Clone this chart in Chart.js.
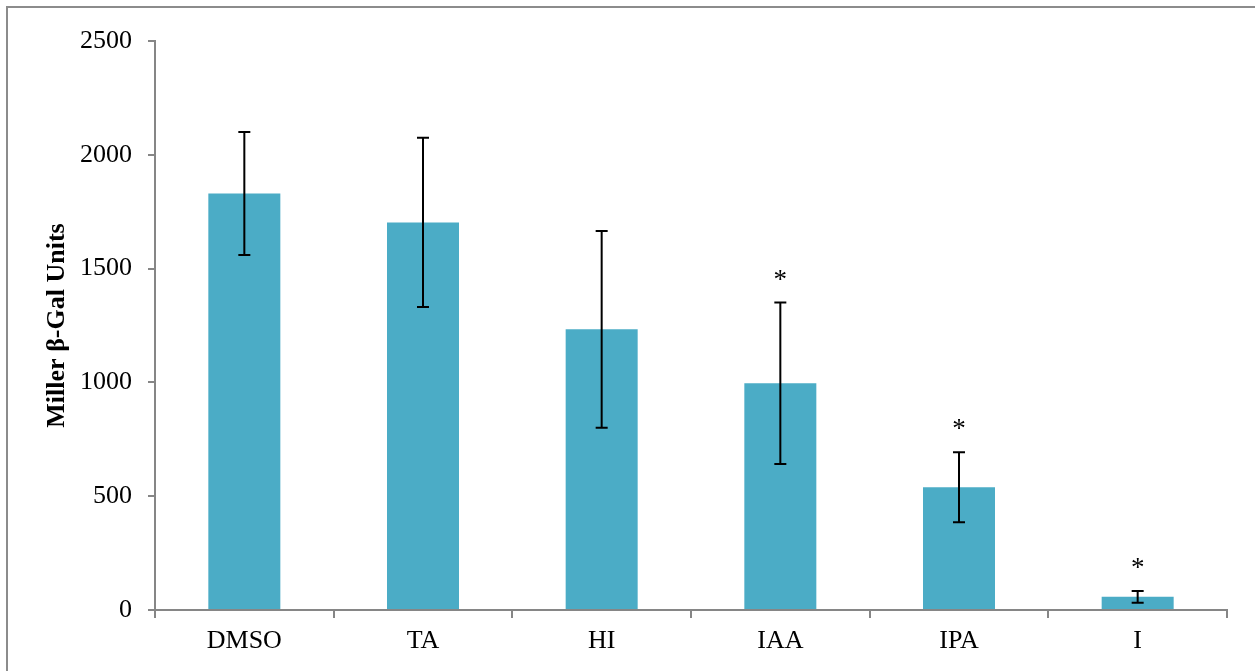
<!DOCTYPE html>
<html>
<head>
<meta charset="utf-8">
<script src="https://cdn.jsdelivr.net/npm/chart.js@4"></script>
<style>
  html, body { margin: 0; padding: 0; background: #fff; overflow: hidden; }
  #wrap { position: relative; width: 1255px; height: 671px; }
  #frame {
    position: absolute; left: 6px; top: 6px; width: 2000px; height: 2000px;
    border-left: 2px solid #8c8c8c; border-top: 2px solid #8c8c8c;
  }
  #chart { position: absolute; left: 0; top: 0; }
</style>
</head>
<body>
<div id="wrap">
  <div id="frame"></div>
  <canvas id="chart" width="1255" height="671"></canvas>
</div>
<script>
// Data
const categories = ["DMSO", "TA", "HI", "IAA", "IPA", "I"];
const means = [1830, 1703, 1233, 996, 539, 58];
const errors = [270, 372, 432, 355, 154, 26];
const marks = ["", "", "", "*", "*", "*"];
const yTicks = [0, 500, 1000, 1500, 2000, 2500];

const serif = "'Liberation Serif', 'Times New Roman', serif";
const axisGray = "#868686";

// error bars and significance stars, positioned through the y scale
const errorBarPlugin = {
  id: "errorBars",
  afterDatasetsDraw(chart) {
    const ctx = chart.ctx;
    const y = chart.scales.y;
    const meta = chart.getDatasetMeta(0);
    ctx.save();
    ctx.strokeStyle = "#000";
    ctx.lineWidth = 2;
    meta.data.forEach((bar, i) => {
      const hi = y.getPixelForValue(means[i] + errors[i]);
      const lo = y.getPixelForValue(means[i] - errors[i]);
      const x = bar.x;
      ctx.beginPath();
      ctx.moveTo(x, hi); ctx.lineTo(x, lo);
      ctx.moveTo(x - 6, hi); ctx.lineTo(x + 6, hi);
      ctx.moveTo(x - 6, lo); ctx.lineTo(x + 6, lo);
      ctx.stroke();
      if (marks[i]) {
        ctx.fillStyle = "#000";
        ctx.font = "27px " + serif;
        ctx.textAlign = "center";
        ctx.textBaseline = "alphabetic";
        ctx.fillText(marks[i], x, hi - 15);
      }
    });
    ctx.restore();
  }
};

const ctx = document.getElementById("chart").getContext("2d");
const chart = new Chart(ctx, {
  type: "bar",
  data: {
    labels: categories,
    datasets: [{
      data: means,
      backgroundColor: "#4BACC6",
      barPercentage: 0.403,
      categoryPercentage: 1
    }]
  },
  options: {
    responsive: false,
    animation: false,
    layout: { padding: { left: 0, top: 41, right: 28, bottom: 0 } },
    plugins: {
      legend: { display: false },
      tooltip: { enabled: false }
    },
    scales: {
      x: {
        afterFit: s => { s.height = 61; },
        grid: {
          display: true,
          drawOnChartArea: false,
          tickLength: 8,
          color: axisGray,
          lineWidth: 2
        },
        border: { color: axisGray, width: 2 },
        ticks: {
          color: "#000",
          padding: 8,
          font: { family: serif, size: 26 }
        }
      },
      y: {
        min: 0,
        max: 2500,
        afterFit: s => { s.width = 155; },
        afterBuildTicks: s => { s.ticks = yTicks.map(v => ({ value: v })); },
        grid: {
          display: true,
          drawOnChartArea: false,
          tickLength: 7,
          color: axisGray,
          lineWidth: 2
        },
        border: { color: axisGray, width: 2 },
        ticks: {
          color: "#000",
          padding: 16,
          font: { family: serif, size: 26 },
          callback: v => String(v)
        },
        title: {
          display: true,
          text: "Miller β-Gal Units",
          color: "#000",
          padding: { top: 42, bottom: 0 },
          font: { family: serif, size: 26, weight: "bold" }
        }
      }
    }
  },
  plugins: [errorBarPlugin]
});
</script>
</body>
</html>
